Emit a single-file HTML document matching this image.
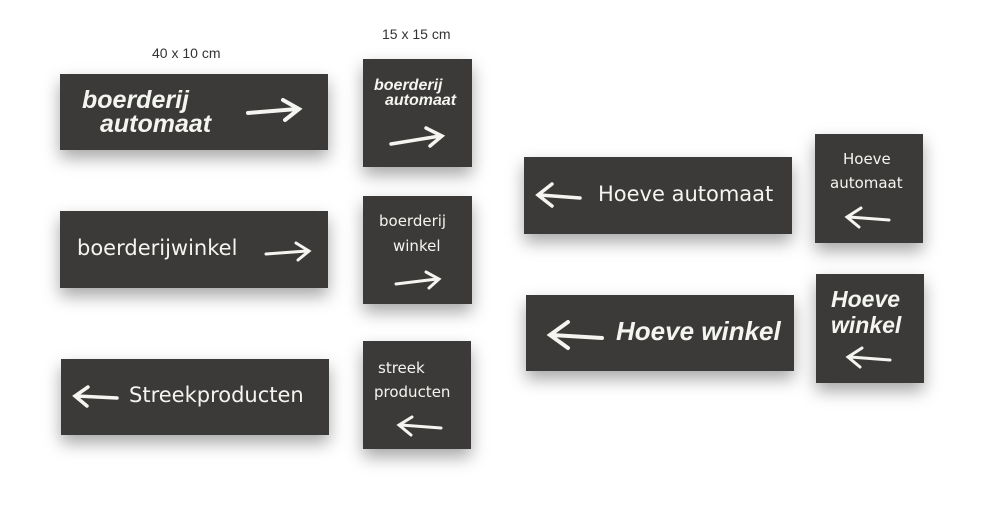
<!DOCTYPE html>
<html><head><style>
body{margin:0;width:1000px;height:511px;background:#fff;position:relative;overflow:hidden;font-family:"Liberation Sans",sans-serif}
.b{position:absolute;background:#3b3a38;box-shadow:0 8px 16px rgba(0,0,0,.35);color:#f4f4f0;}
.t{position:absolute;white-space:nowrap;line-height:1}
.bold{font-weight:bold;font-style:italic;font-family:"Liberation Sans",sans-serif}
.thin{font-family:"DejaVu Sans",sans-serif;font-weight:normal}
svg{position:absolute}
.lbl{position:absolute;font-size:14px;color:#333}
</style></head><body>
<div class="lbl" style="left:152px;top:45px">40 x 10 cm</div>
<div class="lbl" style="left:382px;top:26px">15 x 15 cm</div>

<div class="b" style="left:60px;top:74px;width:268px;height:76px">
 <div class="t bold" style="left:22px;top:14px;font-size:25px">boerderij</div>
 <div class="t bold" style="left:40px;top:38px;font-size:25px">automaat</div>
 <svg style="left:185px;top:22px" width="60" height="30"><path d="M3 17 L52 13 M38 4 L54 13 L40 24" stroke="#f4f4f0" stroke-width="4" fill="none" stroke-linecap="round"/></svg>
</div>
<div class="b" style="left:363px;top:59px;width:109px;height:108px">
 <div class="t bold" style="left:11px;top:19px;font-size:16px">boerderij</div>
 <div class="t bold" style="left:22px;top:34px;font-size:16px">automaat</div>
 <svg style="left:25px;top:65px" width="60" height="30"><path d="M3 20 L52 12 M38 4 L54 12 L42 22" stroke="#f4f4f0" stroke-width="3.5" fill="none" stroke-linecap="round"/></svg>
</div>

<div class="b" style="left:60px;top:211px;width:268px;height:77px">
 <div class="t thin" style="left:17px;top:27px;font-size:21px">boerderijwinkel</div>
 <svg style="left:203px;top:28px" width="50" height="26"><path d="M3 15 L44 12 M33 4 L46 12 L35 21" stroke="#f4f4f0" stroke-width="3" fill="none" stroke-linecap="round"/></svg>
</div>
<div class="b" style="left:363px;top:196px;width:109px;height:108px">
 <div class="t thin" style="left:16px;top:18px;font-size:15px">boerderij</div>
 <div class="t thin" style="left:30px;top:43px;font-size:15px">winkel</div>
 <svg style="left:30px;top:73px" width="50" height="24"><path d="M3 15 L44 10 M33 3 L46 10 L36 19" stroke="#f4f4f0" stroke-width="3" fill="none" stroke-linecap="round"/></svg>
</div>

<div class="b" style="left:61px;top:359px;width:268px;height:76px">
 <svg style="left:10px;top:25px" width="50" height="26"><path d="M46 14 L6 12 M17 3 L4 12 L16 22" stroke="#f4f4f0" stroke-width="3.5" fill="none" stroke-linecap="round"/></svg>
 <div class="t thin" style="left:68px;top:26px;font-size:21px">Streekproducten</div>
</div>
<div class="b" style="left:363px;top:341px;width:108px;height:108px">
 <div class="t thin" style="left:15px;top:20px;font-size:15px">streek</div>
 <div class="t thin" style="left:11px;top:44px;font-size:15px">producten</div>
 <svg style="left:32px;top:73px" width="50" height="24"><path d="M46 14 L6 11 M17 3 L4 11 L16 21" stroke="#f4f4f0" stroke-width="3" fill="none" stroke-linecap="round"/></svg>
</div>

<div class="b" style="left:524px;top:157px;width:268px;height:77px">
 <svg style="left:10px;top:23px" width="50" height="30"><path d="M46 18 L6 15 M18 4 L4 15 L18 26" stroke="#f4f4f0" stroke-width="3.5" fill="none" stroke-linecap="round"/></svg>
 <div class="t thin" style="left:74px;top:27px;font-size:21px">Hoeve automaat</div>
</div>
<div class="b" style="left:815px;top:134px;width:108px;height:109px">
 <div class="t thin" style="left:28px;top:18px;font-size:15px">Hoeve</div>
 <div class="t thin" style="left:15px;top:42px;font-size:15px">automaat</div>
 <svg style="left:28px;top:70px" width="50" height="30"><path d="M46 16 L6 13 M18 4 L4 13 L16 23" stroke="#f4f4f0" stroke-width="3" fill="none" stroke-linecap="round"/></svg>
</div>
<div class="b" style="left:526px;top:295px;width:268px;height:76px">
 <svg style="left:20px;top:23px" width="60" height="34"><path d="M56 20 L6 17 M22 4 L4 17 L22 30" stroke="#f4f4f0" stroke-width="4" fill="none" stroke-linecap="round"/></svg>
 <div class="t bold" style="left:90px;top:23px;font-size:26px">Hoeve winkel</div>
</div>
<div class="b" style="left:816px;top:274px;width:108px;height:109px">
 <div class="t bold" style="left:15px;top:14px;font-size:23px">Hoeve</div>
 <div class="t bold" style="left:15px;top:40px;font-size:23px">winkel</div>
 <svg style="left:28px;top:70px" width="50" height="30"><path d="M46 16 L6 13 M18 4 L4 13 L16 23" stroke="#f4f4f0" stroke-width="3" fill="none" stroke-linecap="round"/></svg>
</div>
</body></html>
